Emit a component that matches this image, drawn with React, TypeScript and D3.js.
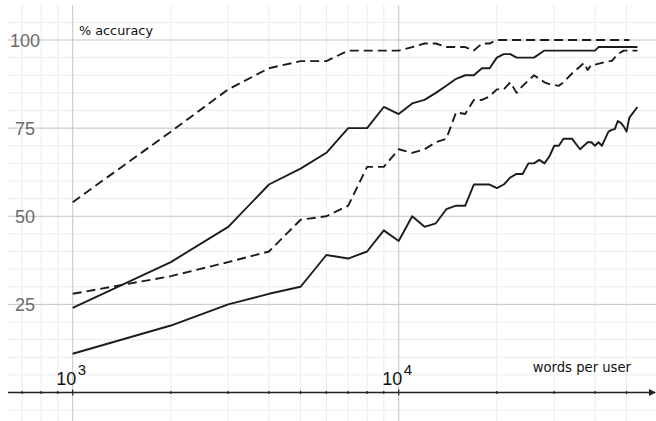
import * as d3 from "d3"

// words per user (x) and % accuracy (y) for each of the four curves
const wordsTopDash = [1000, 2000, 3000, 4000, 5000, 6000, 7000, 8000, 9000, 10000, 11000, 12000, 13000, 14000, 15000, 16000, 17000, 18000, 19000, 20000, 51000]
const accTopDash = [54, 74, 86, 92, 94, 94, 97, 97, 97, 97, 98, 99, 99, 98, 98, 98, 97, 99, 99, 100, 100]

const wordsTopSolid = [1000, 2000, 3000, 4000, 5000, 6000, 7000, 8000, 9000, 10000, 11000, 12000, 13000, 14000, 15000, 16000, 17000, 18000, 19000, 20000, 21000, 22000, 23000, 26000, 28000, 40000, 41000, 54000]
const accTopSolid = [24, 37, 47, 59, 63.5, 68, 75, 75, 81, 79, 82, 83, 85, 87, 89, 90, 90, 92, 92, 95, 96, 96, 95, 95, 97, 97, 98, 98]

const wordsLowDash = [1000, 2000, 3000, 4000, 5000, 6000, 7000, 8000, 9000, 10000, 11000, 12000, 13000, 14000, 15000, 16000, 17000, 18000, 19000, 20000, 21000, 22000, 23000, 24000, 26000, 28000, 29000, 31000, 32000, 34000, 36000, 37000, 38000, 39000, 40000, 44000, 45000, 47000, 49000, 54000]
const accLowDash = [28, 33, 37, 40, 49, 50, 53, 64, 64, 69, 68, 69, 71, 72, 79.5, 79, 83, 83, 84, 86, 86, 88, 85, 87, 90, 88, 87.5, 87, 88, 90.5, 92.5, 93.5, 91.5, 93, 93, 94, 94, 96, 97, 97]

const wordsLowSolid = [1000, 2000, 3000, 4000, 5000, 6000, 7000, 8000, 9000, 10000, 11000, 12000, 13000, 14000, 15000, 16000, 17000, 19000, 20000, 21000, 22000, 23000, 24000, 25000, 26000, 27000, 28000, 29000, 30000, 31000, 32000, 34000, 36000, 38000, 39000, 40000, 41000, 42000, 43000, 44000, 45000, 46000, 47000, 48000, 49000, 50000, 51000, 54000]
const accLowSolid = [11, 19, 25, 28, 30, 39, 38, 40, 46, 43, 50, 47, 48, 52, 53, 53, 59, 59, 58, 59, 61, 62, 62, 65, 65, 66, 65, 67, 70, 70, 72, 72, 69, 71, 71, 70, 71, 70, 72, 74, 74.5, 74.7, 77, 76.5, 75.5, 74, 78, 81]

const yTickLabels = [25, 50, 75, 100]
const xGridValues = [700, 800, 900, 1000, 2000, 3000, 4000, 5000, 6000, 7000, 8000, 9000, 10000, 20000, 30000, 40000, 50000]
const xMajor = [1000, 10000]
const yGridValues = d3.range(-5, 106, 5)

const W = 656
const H = 421

export default function App() {
  const x = d3.scaleLog().domain([1000, 10000]).range([72.7, 398.7])
  const y = d3.scaleLinear().domain([0, 100]).range([392.5, 40])

  const line = d3.line<[number, number]>()
    .x(d => x(d[0]))
    .y(d => y(d[1]))

  const series = [
    { w: wordsTopDash, a: accTopDash, dash: "9,5" },
    { w: wordsTopSolid, a: accTopSolid, dash: null },
    { w: wordsLowDash, a: accLowDash, dash: "9,5" },
    { w: wordsLowSolid, a: accLowSolid, dash: null },
  ]

  const left = 8
  const gridRight = W
  const gridTop = 5
  const axisY = y(0)

  return (
    <svg width={W} height={H} style={{ position: "absolute", left: 0, top: 0, display: "block", background: "#fff" }}>
      {/* minor grid */}
      {yGridValues.filter(v => v % 25 !== 0).map(v => (
        <line key={"hy" + v} x1={left} x2={gridRight} y1={y(v)} y2={y(v)} stroke="#ececec" strokeWidth={1} />
      ))}
      {xGridValues.filter(v => !xMajor.includes(v)).map(v => (
        <line key={"vx" + v} x1={x(v)} x2={x(v)} y1={gridTop} y2={H} stroke="#ececec" strokeWidth={1} />
      ))}
      {/* major grid */}
      {yTickLabels.map(v => (
        <line key={"my" + v} x1={left} x2={gridRight} y1={y(v)} y2={y(v)} stroke="#c4c4c4" strokeWidth={1} />
      ))}
      {xMajor.map(v => (
        <line key={"mx" + v} x1={x(v)} x2={x(v)} y1={gridTop} y2={H} stroke="#c4c4c4" strokeWidth={1} />
      ))}

      {/* y labels */}
      {yTickLabels.map(v => (
        <text key={"yl" + v} x={25} y={y(v) + 6.5} textAnchor="middle" fontFamily="Liberation Sans, Arial, sans-serif" fontSize={18} fill="#6b6b6b">{v}</text>
      ))}

      {/* x axis */}
      <line x1={left} x2={W - 5} y1={axisY} y2={axisY} stroke="#222" strokeWidth={1.3} />
      <path d={`M${W},${axisY} L${W - 7},${axisY - 3.5} L${W - 7},${axisY + 3.5} Z`} fill="#222" />
      {xGridValues.map(v => {
        const len = xMajor.includes(v) ? 3 : 1.6
        return <line key={"t" + v} x1={x(v)} x2={x(v)} y1={axisY - len} y2={axisY + len} stroke="#222" strokeWidth={1.2} />
      })}

      {/* x labels 10^3, 10^4 */}
      {xMajor.map((v, i) => (
        <text key={"xl" + v} x={x(v) + 3.5} y={385} textAnchor="end" fontFamily="Liberation Sans, Arial, sans-serif" fontSize={18} fill="#111">10</text>
      ))}
      {xMajor.map((v, i) => (
        <text key={"xe" + v} x={x(v) + 5} y={375} fontFamily="Liberation Sans, Arial, sans-serif" fontSize={15} fill="#111">{3 + i}</text>
      ))}

      {/* axis titles */}
      <text x={79} y={34.7} fontFamily="DejaVu Sans, sans-serif" fontSize={12.8} fill="#111">% accuracy</text>
      <text x={532.7} y={371.7} fontFamily="DejaVu Sans, sans-serif" fontSize={13.2} fill="#111">words per user</text>

      {/* curves */}
      {series.map((s, i) => (
        <path
          key={"s" + i}
          d={line(s.w.map((w, j) => [w, s.a[j]] as [number, number])) || ""}
          fill="none"
          stroke="#1c1c1c"
          strokeWidth={1.9}
          strokeDasharray={s.dash || undefined}
          strokeLinejoin="round"
        />
      ))}
    </svg>
  )
}
